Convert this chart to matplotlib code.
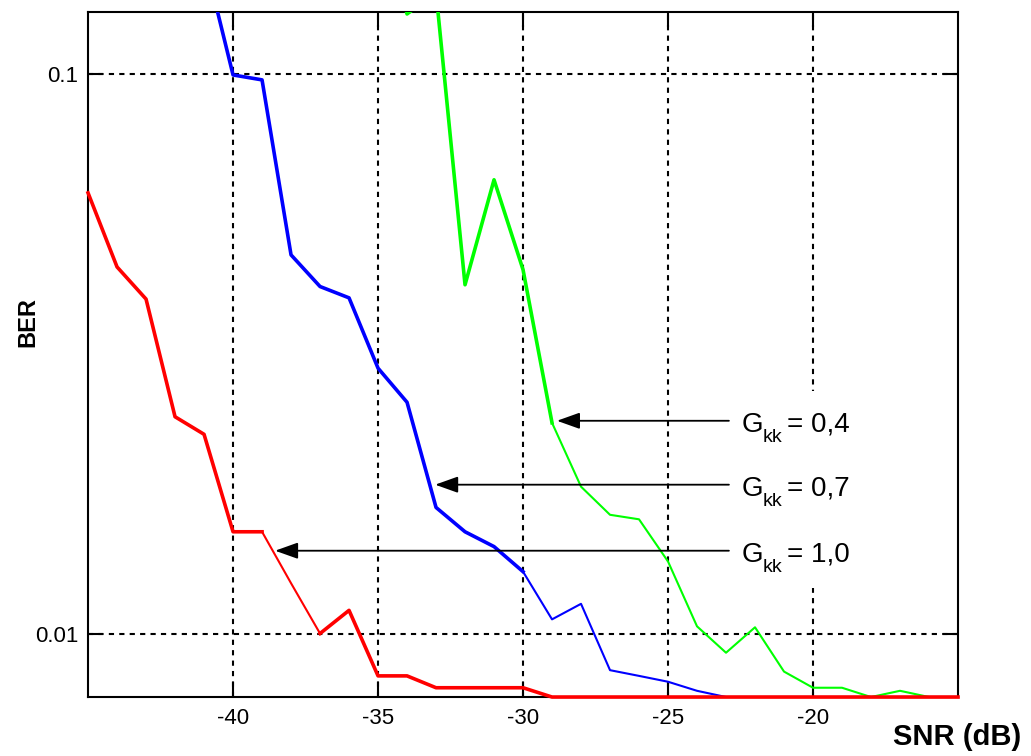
import numpy as np
import matplotlib
matplotlib.use("Agg")
import matplotlib.pyplot as plt
from matplotlib.ticker import NullLocator, FixedLocator, FixedFormatter

plt.rcParams["font.family"] = ["Liberation Sans", "DejaVu Sans"]
plt.rcParams["axes.unicode_minus"] = False

# BER vs SNR for three channel gains
snr_red = np.arange(-45, -14)
ber_red = [0.0613, 0.0452, 0.0396, 0.0244, 0.0227, 0.0152, 0.0152, 0.0123,
           0.0100, 0.0110, 0.0084, 0.0084, 0.0080, 0.0080, 0.0080, 0.0080,
           0.0077, 0.0077, 0.0077, 0.0077, 0.0077, 0.0077, 0.0077, 0.0077,
           0.0077, 0.0077, 0.0077, 0.0077, 0.0077, 0.0077, 0.0077]

snr_blue = np.arange(-41, -14)
ber_blue = [0.162, 0.0996, 0.0976, 0.0475, 0.0417, 0.0398, 0.0298, 0.0259,
            0.0168, 0.0152, 0.0143, 0.0129, 0.0106, 0.0113, 0.0086, 0.0084,
            0.0082, 0.0079, 0.0077, 0.0077, 0.0077, 0.0077, 0.0077, 0.0077,
            0.0077, 0.0077, 0.0077]

snr_green = np.arange(-35, -14)
ber_green = [0.200, 0.128, 0.140, 0.0420, 0.0647, 0.0447, 0.0238, 0.0183,
             0.0163, 0.0160, 0.01345, 0.0103, 0.00924, 0.01026, 0.00855,
             0.0080, 0.0080, 0.0077, 0.0079, 0.0077, 0.0077]

gain_values = ["0,4", "0,7", "1,0"]
label_ber = [0.0240, 0.01845, 0.01406]
arrow_tip_snr = [-28.83, -33.03, -38.55]


def plot_curve(ax, snr, ber, color, thin_from, thin_to, clip=True):
    # thick line with one thin stretch
    snr = np.asarray(snr)
    ber = np.asarray(ber)
    a = snr <= thin_from
    b = (snr >= thin_from) & (snr <= thin_to)
    c = snr >= thin_to
    kw = dict(color=color, zorder=3, clip_on=clip)
    ax.plot(snr[a], ber[a], lw=2.6, **kw)
    ax.plot(snr[b], ber[b], lw=1.5, **kw)
    ax.plot(snr[c], ber[c], lw=2.6, **kw)


fig = plt.figure(figsize=(10.31, 7.56), dpi=100)
ax = fig.add_axes([0.0854, 0.078, 0.8438, 0.906])

plot_curve(ax, snr_blue, ber_blue, (0, 0, 1), -30, -15)
plot_curve(ax, snr_green, ber_green, (0, 1, 0), -29, -15)
plot_curve(ax, snr_red, ber_red, (1, 0, 0), -39, -37, clip=False)

ax.set_yscale("log")
ax.set_xlim(-45, -15)
ax.set_ylim(0.0077, 0.129)

ax.xaxis.set_major_locator(FixedLocator([-40, -35, -30, -25, -20]))
ax.yaxis.set_major_locator(FixedLocator([0.01, 0.1]))
ax.yaxis.set_major_formatter(FixedFormatter(["0.01", "0.1"]))
ax.yaxis.set_minor_locator(NullLocator())
ax.tick_params(direction="in", top=True, right=True, length=11, width=1.5,
               labelsize=16, colors="black")
ax.tick_params(axis="x", pad=8)
ax.tick_params(axis="y", pad=7)
ax.grid(True, color="black", linestyle=(0, (2.5, 2.5)), lw=1.5)
for sp in ax.spines.values():
    sp.set_linewidth(1.5)

# arrows with "G_kk = value" labels
for val, yv, tip in zip(gain_values, label_ber, arrow_tip_snr):
    ax.annotate("", xy=(tip, yv), xytext=(-22.9, yv),
                arrowprops=dict(arrowstyle="-|>,head_length=1.4,head_width=0.5",
                                mutation_scale=10, lw=1.3, color="black",
                                shrinkA=0, shrinkB=0), zorder=4)
    ax.annotate("= " + val, xy=(-22.45, yv), xytext=(32.5, -7.8),
                textcoords="offset points", fontsize=20, ha="left",
                va="baseline", zorder=5,
                bbox=dict(fc="white", ec="none", pad=15))
    ax.annotate("G", xy=(-22.45, yv), xytext=(0, -7.8),
                textcoords="offset points", fontsize=20, ha="left",
                va="baseline", zorder=6)
    ax.annotate("kk", xy=(-22.45, yv), xytext=(15.0, -15.0),
                textcoords="offset points", fontsize=14, ha="left",
                va="baseline", zorder=6)

fig.text(0.9282, 0.025, "SNR (dB)", fontsize=21, fontweight="bold",
         ha="center", va="center")
fig.text(0.027, 0.574, "BER", fontsize=17, fontweight="bold",
         ha="center", va="center", rotation=90)

fig.savefig("out.png", dpi=100)
